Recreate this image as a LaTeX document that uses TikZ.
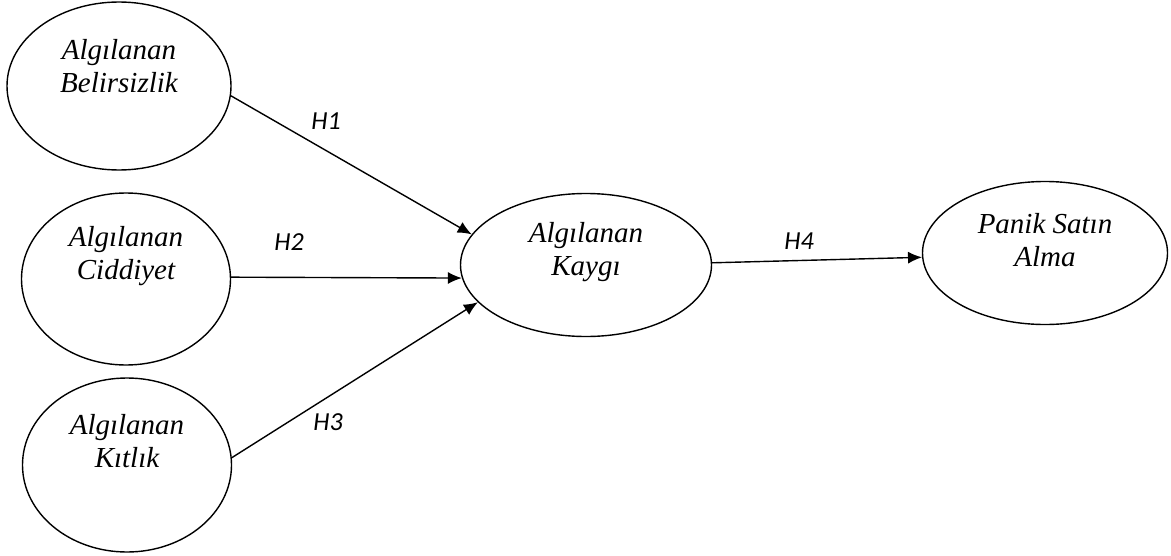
\documentclass[tikz,border=0pt]{standalone}
\usepackage{fontspec}
\setmainfont{Liberation Serif}
\newfontfamily\hfont{Carlito}
\usetikzlibrary{shapes.geometric,arrows.meta}

\begin{document}
\begin{tikzpicture}[x=0.5pt,y=-0.5pt,
    latent/.style={draw, ellipse, line width=0.7pt, inner sep=0pt},
    ctext/.style={align=center, font=\itshape\fontsize{14.5}{16.5}\selectfont},
    hyp/.style={font=\hfont\itshape\fontsize{13}{15}\selectfont},
    link/.style={line width=0.7pt, -{Latex[length=7pt,width=6pt]}}]
    \useasboundingbox (0,0) rectangle (1171,556);

    % constructs
    \node[latent, minimum width=112pt, minimum height=84pt] (bel) at (119,86) {};
    \node[latent, minimum width=104.5pt, minimum height=86pt] (cid) at (126,279) {};
    \node[latent, minimum width=104.5pt, minimum height=87pt] (kit) at (127,465) {};
    \node[latent, minimum width=125.5pt, minimum height=71.5pt] (kay) at (586,265) {};
    \node[latent, minimum width=122.5pt, minimum height=71.5pt] (pan) at (1045,253) {};

    \node[ctext] (belt) at ([yshift=10pt]bel.center) {Algılanan\\Belirsizlik};
    \node[ctext] (cidt) at ([yshift=11.5pt]cid.center) {Algılanan\\Ciddiyet};
    \node[ctext] (kitt) at ([yshift=12pt]kit.center) {Algılanan\\Kıtlık};
    \node[ctext] (kayt) at ([yshift=6.5pt]kay.center) {Algılanan\\Kaygı};
    \node[ctext] (pant) at ([yshift=6.5pt]pan.center) {Panik Satın\\Alma};

    % paths
    \draw[link] (bel.-5.6) -- (kay.165);
    \draw[link] (cid.1) -- (kay.186);
    \draw[link] (kit.4) -- (kay.199);
    \draw[link] (kay.1) -- (pan.182);

    \node[hyp] (h1) at (326,121) {H1};
    \node[hyp] (h2) at (289,242) {H2};
    \node[hyp] (h3) at (328,422) {H3};
    \node[hyp] (h4) at (799,241) {H4};
\end{tikzpicture}
\end{document}
